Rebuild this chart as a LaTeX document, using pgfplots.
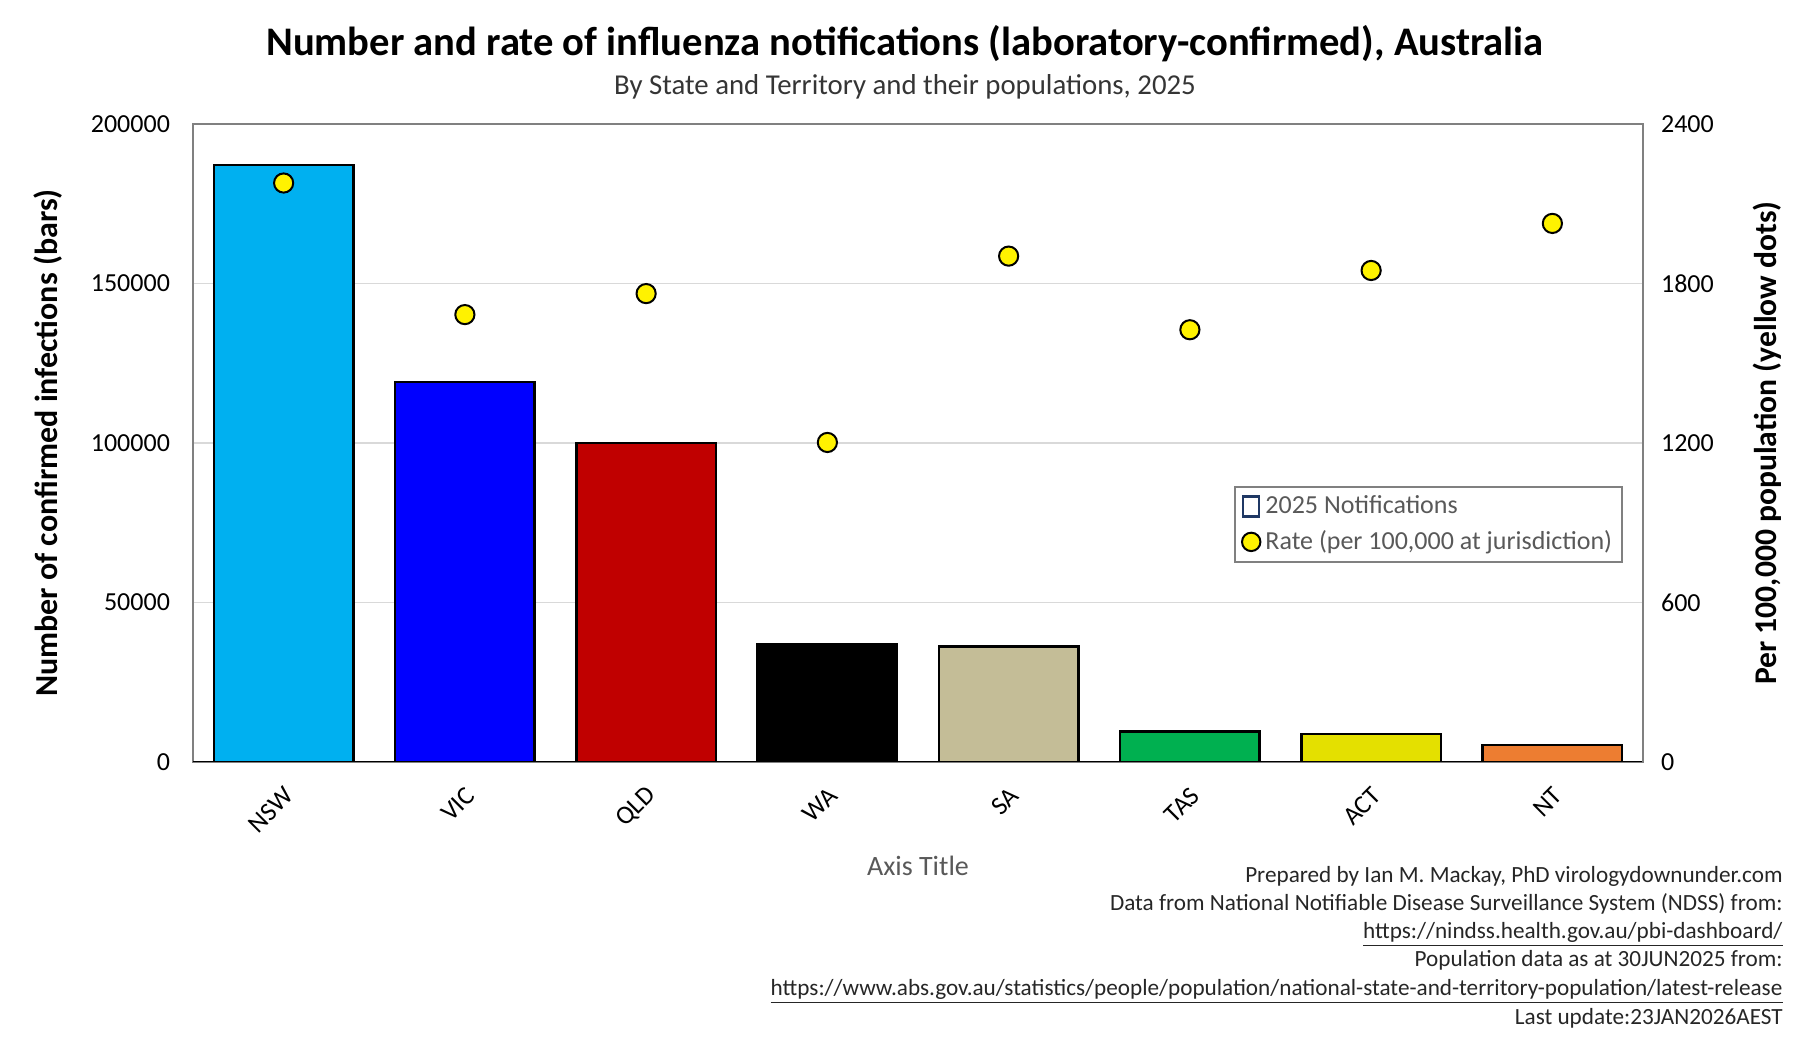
\documentclass[border=0pt]{standalone}
\usepackage{pgfplots}
\pgfplotsset{compat=1.18}
\usepackage{fontspec}
\setmainfont{Carlito}
\definecolor{cNSW}{HTML}{00B0F0}
\definecolor{cVIC}{HTML}{0000FF}
\definecolor{cQLD}{HTML}{C00000}
\definecolor{cWA}{HTML}{000000}
\definecolor{cSA}{HTML}{C4BD97}
\definecolor{cTAS}{HTML}{00B050}
\definecolor{cACT}{HTML}{E4E000}
\definecolor{cNT}{HTML}{ED7D31}
\definecolor{gridc}{HTML}{D9D9D9}
\definecolor{axc}{HTML}{808080}
\definecolor{txtg}{HTML}{595959}
\definecolor{legblue}{HTML}{1F3864}
\begin{document}
\begin{tikzpicture}
\useasboundingbox (0pt,0pt) rectangle (905pt,522pt);
\begin{axis}[
  at={(96.5pt,141pt)}, anchor=south west,
  scale only axis, width=725pt, height=319pt,
  xmin=-0.5, xmax=7.5, ymin=0, ymax=200000,
  xtick={0,...,7},
  xticklabels={NSW,VIC,QLD,WA,SA,TAS,ACT,NT},
  ytick={0,50000,100000,150000,200000},
  scaled y ticks=false,
  /pgf/number format/.cd, fixed, precision=0, 1000 sep={}, assume math mode=true,
  /pgfplots/.cd,
  major tick length=0pt,
  ymajorgrids, grid style={gridc, line width=0.9pt},
  axis line style={axc, line width=0.9pt},
  tick label style={font=\fontsize{13}{15}\selectfont, black},
  yticklabel style={xshift=-8pt},
  xticklabel style={rotate=45, anchor=east, xshift=-5pt, yshift=-12.5pt},
  ylabel={\textbf{Number of confirmed infections (bars)}},
  ylabel style={font=\fontsize{16}{19}\selectfont, at={(axis description cs:-0.1,0.5)}, anchor=center},
  xlabel={Axis Title},
  xlabel style={font=\fontsize{14}{17}\selectfont, text=txtg, at={(axis description cs:0.5,0)}, anchor=center, yshift=-52pt},
  ybar, bar width=0.77, bar shift=0pt,
  every axis plot/.append style={draw=black, line width=1.2pt},
]
\addplot[fill=cNSW] coordinates {(0,187100)};
\addplot[fill=cVIC] coordinates {(1,119100)};
\addplot[fill=cQLD] coordinates {(2,100000)};
\addplot[fill=cWA] coordinates {(3,36900)};
\addplot[fill=cSA] coordinates {(4,36150)};
\addplot[fill=cTAS] coordinates {(5,9500)};
\addplot[fill=cACT] coordinates {(6,8700)};
\addplot[fill=cNT] coordinates {(7,5300)};
\draw[black, line width=1.3pt] (rel axis cs:0,0) -- (rel axis cs:1,0);
\end{axis}
\begin{axis}[
  at={(96.5pt,141pt)}, anchor=south west,
  scale only axis, width=725pt, height=319pt,
  xmin=-0.5, xmax=7.5, ymin=0, ymax=2400,
  axis x line=none, axis y line*=right,
  ytick={0,600,1200,1800,2400},
  scaled y ticks=false,
  /pgf/number format/.cd, fixed, precision=0, 1000 sep={}, assume math mode=true,
  /pgfplots/.cd,
  major tick length=0pt,
  axis line style={axc, line width=0.9pt},
  tick label style={font=\fontsize{13}{15}\selectfont, black},
  yticklabel style={xshift=5.5pt},
  ylabel={\textbf{Per 100,000 population (yellow dots)}},
  ylabel style={font=\fontsize{15.8}{19}\selectfont, at={(axis description cs:1.0855,0.5)}, anchor=center},
  legend style={at={(axis description cs:0.718,0.4326)}, anchor=north west,
    draw=axc, line width=0.9pt, font=\fontsize{13}{15}\selectfont, text=txtg,
    inner xsep=3pt, inner ysep=2.5pt, row sep=3pt, cells={anchor=west}},
]
\addlegendimage{legend image code/.code={\draw[legblue, line width=1.2pt, fill=white] (-4pt,-5pt) rectangle (4pt,5pt);}}
\addlegendentry{2025 Notifications}
\addplot[only marks, mark=*, mark size=4.8pt, mark options={fill=yellow, draw=black, line width=1pt},
  legend image code/.code={\draw[fill=yellow, draw=black, line width=1pt] (0pt,0pt) circle (4.6pt);}]
  coordinates {(0,2178) (1,1683) (2,1762) (3,1202) (4,1903) (5,1626) (6,1849) (7,2026)};
\addlegendentry{Rate (per 100,000 at jurisdiction)}
\end{axis}
\node[font=\fontsize{20.3}{24}\selectfont\bfseries] at (452.5pt,500pt) {Number and rate of influenza notifications (laboratory-confirmed), Australia};
\node[font=\fontsize{14.4}{17}\selectfont, text=txtg!60!black] at (452.5pt,478.7pt) {By State and Territory and their populations, 2025};
\begin{scope}[every node/.style={anchor=mid east, font=\fontsize{11.6}{14}\selectfont, text=black!85, inner sep=0pt}]
\node at (891.5pt,83pt) {Prepared by Ian M. Mackay, PhD virologydownunder.com};
\node at (891.5pt,69.2pt) {Data from National Notifiable Disease Surveillance System (NDSS) from:};
\node at (891.5pt,55.3pt) {\underline{https://nindss.health.gov.au/pbi-dashboard/}};
\node at (891.5pt,40.9pt) {Population data as at 30JUN2025 from:};
\node at (891.5pt,26.5pt) {\underline{https://www.abs.gov.au/statistics/people/population/national-state-and-territory-population/latest-release}};
\node at (891.5pt,12pt) {Last update:23JAN2026AEST};
\end{scope}
\end{tikzpicture}
\end{document}
